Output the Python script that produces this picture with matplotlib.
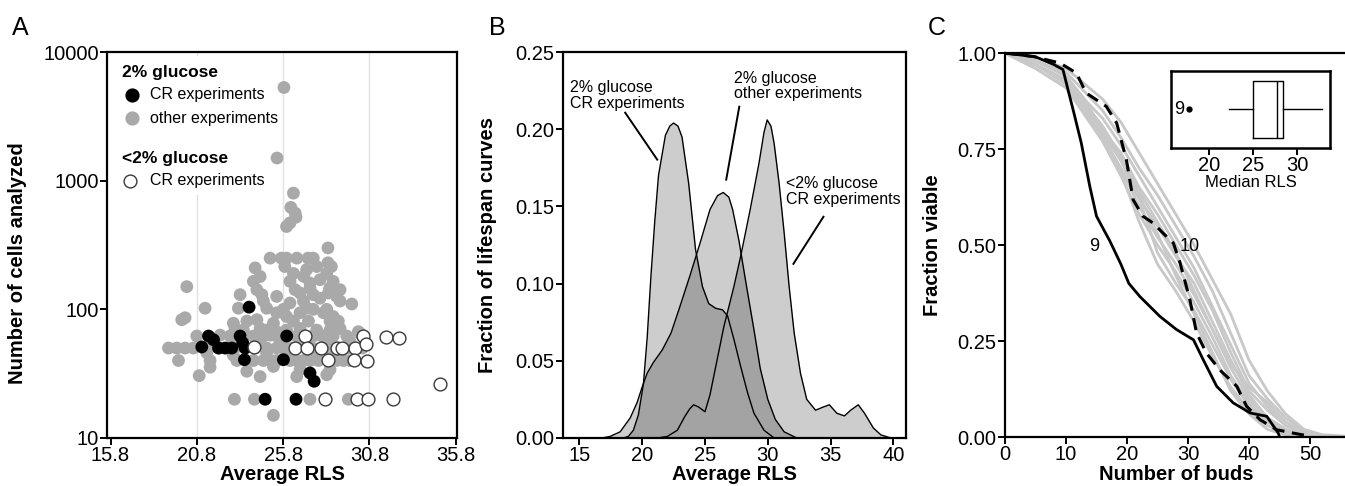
import matplotlib
matplotlib.use('Agg')
import numpy as np
import matplotlib.pyplot as plt
from matplotlib.patches import Rectangle
from matplotlib.ticker import FixedLocator, NullLocator, FormatStrFormatter

plt.rcParams['font.family'] = ['Liberation Sans', 'DejaVu Sans']

# ---------------- Panel A data ----------------
gray_x = [25.85, 25.45, 26.4, 26.25, 26.5, 26.55, 26.0, 26.2, 28.4,
          25.05, 25.7, 26.0, 26.6, 27.25, 27.55, 28.4,
          24.18, 25.9, 27.75, 28.6, 26.4, 27.17, 28.33, 27.0,
          24.47, 24.08, 26.2, 27.94, 28.7, 27.36,
          20.22, 24.28, 27.36, 28.5, 26.5, 29.1,
          23.31, 24.57, 25.43, 26.78, 27.55, 28.43, 28.9, 27.94, 24.66, 29.1,
          29.78, 26.2, 26.98,
          21.28, 23.21, 24.85, 25.82, 27.17, 28.33,
          25.43, 26.0, 26.78, 27.55, 28.14, 19.93, 20.12, 28.7,
          23.7, 24.28, 25.24, 26.4, 27.27, 28.52, 29.0, 22.92,
          23.02, 23.5, 24.47, 24.85, 25.43, 26.78, 27.75, 28.52, 29.1, 30.16, 26.0,
          20.8, 22.15, 22.73, 24.08, 24.66, 25.05, 25.43, 26.59, 27.55, 27.94, 28.7, 29.49, 30.26,
          22.92, 24.47, 25.63, 26.78, 28.33, 29.68,
          19.16, 19.64, 20.12, 20.6, 21.5, 22.1, 22.6, 23.0, 24.85, 25.43, 25.9, 26.3, 27.5, 28.5, 29.5, 30.4,
          21.38, 22.92, 24.85, 26.0, 27.55, 28.7,
          19.74, 21.57, 23.12, 24.08, 24.66, 25.05, 25.43, 26.2, 26.59, 26.98, 27.36, 27.85, 28.9, 29.3, 29.68,
          21.57, 25.24, 23.7, 26.78, 28.52,
          20.94, 24.47, 26.59, 28.33,
          22.98, 24.14, 27.36, 29.58,
          25.24]
gray_y = [5300, 1500, 800, 620, 560, 520, 440, 470, 300,
          250, 250, 250, 250, 250, 250, 230,
          210, 215, 215, 215, 190, 204, 190, 180,
          180, 165, 165, 170, 165, 160,
          150, 142, 146, 146, 142, 142,
          130, 130, 126, 134, 130, 134, 126, 122, 116, 116,
          110, 112, 116,
          102, 102, 102, 100, 102, 100,
          94, 88, 94, 100, 94, 83, 86, 88,
          81, 83, 78, 81, 81, 81, 81, 78,
          71, 69, 71, 69, 67, 71, 69, 69, 71, 67, 69,
          62, 63, 62, 62, 62, 63, 62, 62, 62, 63, 62, 62, 65,
          56, 56, 56, 56, 56, 56,
          50, 50, 50, 50, 50, 50, 50, 50, 50, 50, 50, 50, 50, 50, 50, 50,
          46, 44, 46, 45, 46, 46,
          40, 40, 40, 40, 40, 40, 40, 40, 40, 40, 40, 40, 40, 40, 40,
          35.5, 36, 33, 34, 34,
          30.5, 30, 30, 31,
          20, 20, 20, 20,
          15]

black_x = [21.48, 21.09, 21.77, 22.06, 22.44, 22.83, 23.31, 23.46, 23.6, 23.56,
           26.01, 25.82, 27.36, 27.6, 24.76, 26.55, 23.83]
black_y = [62, 51, 58, 50, 50, 50, 62, 55, 50, 40.6,
           62, 40.6, 32, 27.6, 20, 20, 104]

open_x = [24.14, 26.5, 27.07, 27.17, 28.0, 28.39, 28.9, 29.2, 29.97, 30.45,
          30.6, 29.9, 30.65, 31.77, 32.5, 34.9, 28.23, 30.1, 30.74, 32.15]
open_y = [50.7, 50, 62, 50, 50, 40.6, 50, 50, 50, 62,
          54, 40.6, 40, 61, 60, 26.4, 20, 20, 20, 20]

a_xticks = [15.8, 20.8, 25.8, 30.8, 35.8]
a_yticks = [10, 100, 1000, 10000]

# ---------------- Panel B data ----------------
cr_x = [17.5, 18.5, 18.9, 19.3, 19.7, 20.1, 20.4, 20.7, 21.0, 21.3, 21.85, 22.2, 22.5,
        22.85, 23.17, 23.7, 24.25, 24.8, 25.3, 25.85, 26.4, 26.8, 27.3, 27.85,
        28.4, 28.9, 29.7, 30.5]
cr_y = [0, 0.0, 0.001, 0.005, 0.015, 0.035, 0.065, 0.105, 0.14, 0.17, 0.196, 0.202, 0.204,
        0.202, 0.195, 0.165, 0.122, 0.098, 0.087, 0.084, 0.083, 0.079, 0.064, 0.046,
        0.029, 0.016, 0.005, 0.0]

oth_x = [16.8, 17.45, 18.25, 19.05, 19.6, 20.0, 20.4, 20.9, 21.6, 22.3, 23.0, 23.8,
         24.6, 25.4, 26.0, 26.45, 26.9, 27.2, 27.7, 28.25, 28.9, 29.4, 30.0, 30.6,
         31.3, 32.3]
oth_y = [0, 0.001, 0.004, 0.013, 0.023, 0.033, 0.042, 0.049, 0.057, 0.068, 0.085, 0.105,
         0.126, 0.148, 0.157, 0.159, 0.156, 0.148, 0.128, 0.101, 0.070, 0.045, 0.025, 0.012,
         0.004, 0]

low_x = [21.2, 22.0, 22.8, 23.4, 23.8, 24.1, 24.5, 25.0, 25.4, 25.85, 26.5, 27.3, 27.85,
         28.6, 29.3, 29.7, 29.95, 30.25, 30.5, 30.9, 31.3, 31.7, 32.1, 32.6, 33.1, 33.8,
         34.4, 34.9, 35.5, 36.1, 36.6, 37.2, 37.7, 38.4, 39.0, 39.8]
low_y = [0, 0.001, 0.005, 0.014, 0.019, 0.0215, 0.020, 0.017, 0.028, 0.046, 0.072, 0.098,
         0.118, 0.148, 0.178, 0.198, 0.206, 0.202, 0.191, 0.165, 0.133, 0.098, 0.068, 0.042,
         0.025, 0.018, 0.020, 0.0215, 0.016, 0.0143, 0.018, 0.0215, 0.016, 0.0065, 0.002, 0]

b_xticks = [15, 20, 25, 30, 35, 40]
b_yticks = [0.00, 0.05, 0.10, 0.15, 0.20, 0.25]

# ---------------- Panel C data ----------------
g_x = [0, 5, 10, 13, 16, 19, 22, 25, 28, 31, 34, 37, 40, 43, 46, 49, 52, 56]
gray_curves = [
    [1, .99, .96, .92, .88, .82, .74, .66, .58, .50, .41, .32, .20, .12, .06, .02, .006, .002],
    [1, .98, .95, .90, .85, .78, .70, .63, .55, .47, .38, .27, .16, .10, .05, .015, .004, 0],
    [1, .98, .94, .88, .83, .76, .68, .60, .52, .44, .34, .24, .14, .08, .03, .01, .002, 0],
    [1, .97, .93, .87, .80, .74, .65, .58, .50, .42, .33, .22, .12, .07, .03, .01, 0, 0],
    [1, .97, .92, .86, .79, .72, .62, .55, .47, .40, .30, .20, .11, .05, .02, .005, 0, 0],
    [1, .97, .92, .85, .78, .70, .60, .52, .45, .37, .28, .18, .10, .05, .02, .005, 0, 0],
    [1, .96, .91, .84, .77, .68, .58, .50, .43, .35, .26, .16, .09, .04, .015, .004, 0, 0],
    [1, .96, .91, .85, .78, .70, .62, .48, .40, .33, .24, .15, .08, .04, .01, 0, 0, 0],
    [1, .97, .93, .86, .79, .69, .56, .45, .38, .30, .21, .13, .07, .03, .01, 0, 0, 0],
    [1, .98, .94, .88, .80, .72, .63, .53, .42, .32, .22, .12, .06, .02, .005, 0, 0, 0],
    [1, .97, .93, .87, .81, .73, .64, .56, .48, .38, .28, .19, .13, .09, .04, .01, .003, 0],
]

s9_x = [0, 5, 8, 9.5, 10.4, 11.2, 12.5, 13.9, 15, 17.2, 19, 20.3, 22.1, 25.4, 28.1, 30.9,
        32.5, 34.7, 37.4, 40.2, 42.9, 44.8, 45]
s9_y = [1, 0.99, 0.97, 0.957, 0.90, 0.85, 0.766, 0.653, 0.575, 0.51, 0.45, 0.40, 0.366,
        0.314, 0.280, 0.253, 0.201, 0.132, 0.089, 0.0625, 0.054, 0.01, 0]

s10_x = [0, 4.6, 9, 11.7, 13.3, 15, 16.6, 18.3, 19.9, 21, 22.6, 24.3, 25.9, 27.6, 28.7,
         30.3, 31.4, 33, 35.2, 38, 39.6, 41.8, 44.5, 47.3, 50]
s10_y = [1, 0.991, 0.974, 0.948, 0.896, 0.878, 0.861, 0.818, 0.722, 0.618, 0.575, 0.557,
         0.531, 0.505, 0.453, 0.358, 0.271, 0.219, 0.175, 0.132, 0.08, 0.045, 0.019, 0.01,
         0.002]

c_xticks = [0, 10, 20, 30, 40, 50]
c_yticks = [0.00, 0.25, 0.50, 0.75, 1.00]

# inset box plot statistics (median RLS)
box_stats = dict(med=27.7, q1=25.0, q3=28.4, whislo=22.3, whishi=32.9, fliers=[17.7])
inset_xticks = [20, 25, 30]

# ---------------- Figure ----------------
TICK = 14.5
LAB = 14.5
fig = plt.figure(figsize=(13.45, 4.86), dpi=100)


def style(ax):
    for s in ax.spines.values():
        s.set_linewidth(1.6)
    ax.tick_params(direction='out', length=5, width=1.4, labelsize=TICK, pad=1)


# Panel A
axA = fig.add_axes([0.0796, 0.0988, 0.2602, 0.7942])
axA.set_yscale('log')
axA.set_xlim(15.6, 35.88)
axA.set_ylim(10, 10000)
for gx in [20.8, 25.8, 30.8]:
    axA.axvline(gx, color='#e2e2e2', lw=1.0, zorder=0)
# white backdrop of the legend (hides the grid line, sits below the points)
axA.add_patch(Rectangle((0.005, 0.63), 0.485, 0.36, transform=axA.transAxes,
                        facecolor='white', edgecolor='none', zorder=1))
axA.scatter(gray_x, gray_y, s=85, color='#a9a9a9', edgecolors='none', zorder=2)
axA.scatter(black_x, black_y, s=85, color='black', edgecolors='none', zorder=3)
axA.scatter(open_x, open_y, s=85, facecolors='white', edgecolors='#3a3a3a', linewidths=1.0, zorder=4)
axA.xaxis.set_major_locator(FixedLocator(a_xticks))
axA.xaxis.set_major_formatter(FormatStrFormatter('%.1f'))
axA.yaxis.set_major_locator(FixedLocator(a_yticks))
axA.yaxis.set_major_formatter(FormatStrFormatter('%d'))
axA.yaxis.set_minor_locator(NullLocator())
style(axA)
axA.set_xlabel('Average RLS', fontsize=LAB, fontweight='bold')
axA.xaxis.set_label_coords(0.5, -0.07)
axA.set_ylabel('Number of cells analyzed', fontsize=LAB, fontweight='bold')
axA.yaxis.set_label_coords(-0.229, 0.453)
# legend (manual)
axA.text(0.043, 0.946, '2% glucose', transform=axA.transAxes, fontsize=12.5,
         fontweight='bold', va='center', ha='left', zorder=6)
axA.scatter([0.071], [0.889], s=85, color='black', transform=axA.transAxes, zorder=6, clip_on=False)
axA.text(0.123, 0.889, 'CR experiments', transform=axA.transAxes, fontsize=11.5,
         va='center', ha='left', zorder=6)
axA.scatter([0.071], [0.829], s=85, color='#a9a9a9', transform=axA.transAxes, zorder=6, clip_on=False)
axA.text(0.123, 0.829, 'other experiments', transform=axA.transAxes, fontsize=11.5,
         va='center', ha='left', zorder=6)
axA.text(0.043, 0.723, '<2% glucose', transform=axA.transAxes, fontsize=12.5,
         fontweight='bold', va='center', ha='left', zorder=6)
axA.scatter([0.066], [0.666], s=85, facecolors='white', edgecolors='#3a3a3a', linewidths=1.0,
            transform=axA.transAxes, zorder=6, clip_on=False)
axA.text(0.123, 0.666, 'CR experiments', transform=axA.transAxes, fontsize=11.5,
         va='center', ha='left', zorder=6)

# Panel B
axB = fig.add_axes([0.4186, 0.0988, 0.2550, 0.7942])
axB.set_xlim(13.7, 41.0)
axB.set_ylim(0, 0.25)
curves_b = [(oth_x, oth_y), (cr_x, cr_y), (low_x, low_y)]
for xs, ys in curves_b:
    axB.fill_between(xs, ys, 0, color='#cdcdcd', lw=0, zorder=1)
# regions covered by two or more densities are shaded darker
grid = np.linspace(13.7, 41.0, 1200)
stack = np.sort(np.vstack([np.interp(grid, xs, ys, left=0, right=0) for xs, ys in curves_b]), axis=0)
axB.fill_between(grid, stack[-2], 0, color='#a3a3a3', lw=0, zorder=2)
for xs, ys in curves_b:
    axB.plot(xs, ys, color='black', lw=1.0, zorder=3)
axB.xaxis.set_major_locator(FixedLocator(b_xticks))
axB.yaxis.set_major_locator(FixedLocator(b_yticks))
axB.yaxis.set_major_formatter(FormatStrFormatter('%.2f'))
style(axB)
axB.set_xlabel('Average RLS', fontsize=LAB, fontweight='bold')
axB.xaxis.set_label_coords(0.5, -0.07)
axB.set_ylabel('Fraction of lifespan curves', fontsize=LAB, fontweight='bold')
axB.yaxis.set_label_coords(-0.192, 0.5)
ANN = 11.5
axB.text(14.26, 0.222, '2% glucose\nCR experiments', fontsize=ANN, ha='left', va='center',
         linespacing=1.05)
axB.plot([18.65, 21.2], [0.2107, 0.1803], color='black', lw=1.4)
axB.text(27.33, 0.228, '2% glucose\nother experiments', fontsize=ANN, ha='left', va='center',
         linespacing=1.05)
axB.plot([27.73, 26.69], [0.2146, 0.1673], color='black', lw=1.4)
axB.text(31.48, 0.1595, '<2% glucose\nCR experiments', fontsize=ANN, ha='left', va='center',
         linespacing=1.05)
axB.plot([34.43, 32.04], [0.1433, 0.1128], color='black', lw=1.4)

# Panel C
axC = fig.add_axes([0.7472, 0.1008, 0.2631, 0.7901])
axC.set_xlim(0, 58)
axC.set_ylim(0, 1)
for gy in gray_curves:
    axC.plot(g_x, gy, color='#c8c8c8', lw=2.0, zorder=2)
axC.plot(s9_x, s9_y, color='black', lw=2.0, zorder=3)
axC.plot(s10_x, s10_y, color='black', lw=2.2, ls=(0, (4, 2.5)), zorder=3)
axC.xaxis.set_major_locator(FixedLocator(c_xticks))
axC.yaxis.set_major_locator(FixedLocator(c_yticks))
axC.yaxis.set_major_formatter(FormatStrFormatter('%.2f'))
style(axC)
axC.set_xlabel('Number of buds', fontsize=LAB, fontweight='bold')
axC.xaxis.set_label_coords(28.0 / 58.0, -0.072)
axC.set_ylabel('Fraction viable', fontsize=LAB, fontweight='bold')
axC.yaxis.set_label_coords(-0.178, 0.5)
axC.text(14.6, 0.495, '9', fontsize=13, ha='center', va='center', zorder=5)
axC.text(30.2, 0.495, '10', fontsize=13, ha='center', va='center', zorder=5)

# Inset
axI = fig.add_axes([0.8706, 0.6955, 0.1182, 0.1584])
axI.set_facecolor('white')
kw = dict(showcaps=False, widths=0.75, patch_artist=False,
          boxprops=dict(color='black', lw=1.0),
          whiskerprops=dict(color='black', lw=1.0),
          medianprops=dict(color='black', lw=1.0),
          flierprops=dict(marker='o', markerfacecolor='black', markeredgecolor='black',
                          markersize=3.5))
try:
    axI.bxp([box_stats], positions=[1], orientation='horizontal', **kw)
except TypeError:
    axI.bxp([box_stats], positions=[1], vert=False, **kw)
axI.set_xlim(15.7, 33.75)
axI.set_ylim(0.5, 1.5)
axI.set_yticks([])
axI.xaxis.set_major_locator(FixedLocator(inset_xticks))
for s in axI.spines.values():
    s.set_linewidth(1.8)
axI.tick_params(axis='x', direction='out', length=5, width=1.4, labelsize=TICK, pad=1)
axI.set_xlabel('Median RLS', fontsize=12, labelpad=0)
axI.text(16.6, 1.0, '9', fontsize=13, ha='center', va='center')

# Panel letters
fig.text(20 / 1345, 1 - 28 / 486, 'A', fontsize=18, ha='center', va='center')
fig.text(497 / 1345, 1 - 28 / 486, 'B', fontsize=18, ha='center', va='center')
fig.text(937 / 1345, 1 - 28 / 486, 'C', fontsize=18, ha='center', va='center')

fig.savefig('out.png', dpi=100, facecolor='white')
